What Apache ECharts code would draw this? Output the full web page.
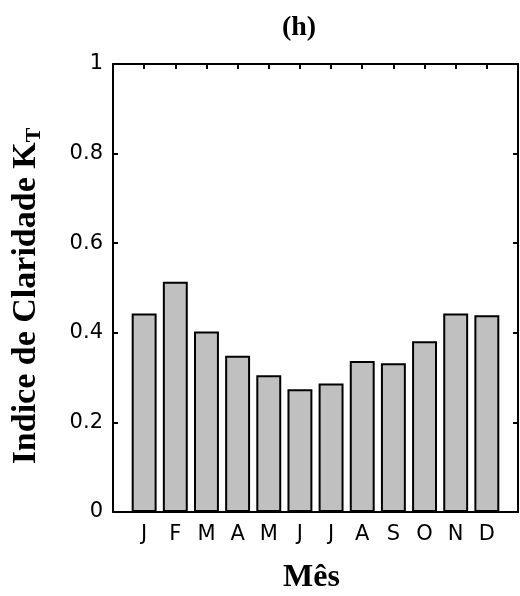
<!DOCTYPE html>
<html>
<head>
<meta charset="utf-8">
<script src="https://cdn.jsdelivr.net/npm/echarts@6/dist/echarts.min.js"></script>
<style>
  html, body { margin: 0; padding: 0; background: #fff; }
  #chart { width: 520px; height: 596px; }
</style>
</head>
<body>
<div id="chart"></div>
<script>
// Monthly clearness index K_T
const months = ['J', 'F', 'M', 'A', 'M', 'J', 'J', 'A', 'S', 'O', 'N', 'D'];
const kt = [0.443, 0.514, 0.403, 0.349, 0.305, 0.274, 0.287, 0.337, 0.332, 0.381, 0.443, 0.439];
const yTicks = [0, 0.2, 0.4, 0.6, 0.8, 1];

const sansFont = '"DejaVu Sans", sans-serif';
const serifFont = '"Liberation Serif", "Times New Roman", serif';

const chart = echarts.init(document.getElementById('chart'), null, { renderer: 'canvas' });

const fmtY = v => {
  const t = yTicks.find(x => Math.abs(x - v) < 1e-9);
  return t === undefined ? '' : String(t);
};

// shared frame styling: black box with inward ticks on all four sides
const lineStyle = { color: '#000', width: 2 };
const frameLine = { show: true, onZero: false, lineStyle };
const frameTick = { show: true, inside: true, length: 5, lineStyle };

chart.setOption({
  animation: false,
  backgroundColor: '#ffffff',
  title: {
    text: '(h)',
    left: 294,
    top: 9,
    textAlign: 'center',
    textStyle: { fontFamily: serifFont, fontWeight: 'bold', fontSize: 28, color: '#000' }
  },
  grid: { left: 113, top: 64, right: 2, bottom: 84, containLabel: false, outerBoundsMode: 'none' },
  xAxis: [
    {
      type: 'value',
      min: 0, max: 13, interval: 1,
      position: 'bottom',
      name: 'Mês',
      nameLocation: 'middle',
      nameGap: 50,
      nameTextStyle: { fontFamily: serifFont, fontWeight: 'bold', fontSize: 32, color: '#000', padding: [0, 8, 0, 0] },
      axisLine: frameLine,
      axisTick: frameTick,
      axisLabel: {
        margin: 12,
        fontFamily: sansFont, fontSize: 21, color: '#000',
        formatter: v => (v >= 1 && v <= 12 ? months[v - 1] : '')
      },
      splitLine: { show: false }
    },
    {
      type: 'value',
      min: 0, max: 13, interval: 1,
      position: 'top',
      axisLine: frameLine,
      axisTick: frameTick,
      axisLabel: { show: false },
      splitLine: { show: false }
    }
  ],
  yAxis: [
    {
      type: 'value',
      min: 0, max: 1, interval: 0.2,
      position: 'left',
      name: '{a|Indice de Claridade K}{s|T}',
      nameLocation: 'middle',
      nameRotate: 90,
      nameGap: 67,
      nameTextStyle: {
        rich: {
          a: { fontFamily: serifFont, fontWeight: 'bold', fontSize: 34, color: '#000', lineHeight: 40 },
          s: { fontFamily: serifFont, fontWeight: 'bold', fontSize: 22, color: '#000', padding: [16, 16, 0, 0], lineHeight: 40 }
        }
      },
      axisLine: frameLine,
      axisTick: frameTick,
      axisLabel: { margin: 10, fontFamily: sansFont, fontSize: 21, color: '#000', formatter: fmtY },
      splitLine: { show: false }
    },
    {
      type: 'value',
      min: 0, max: 1, interval: 0.2,
      position: 'right',
      axisLine: frameLine,
      axisTick: frameTick,
      axisLabel: { show: false },
      splitLine: { show: false }
    }
  ],
  series: [
    {
      type: 'bar',
      xAxisIndex: 0,
      yAxisIndex: 0,
      barWidth: '80%',
      data: kt.map((v, i) => [i + 1, v]),
      itemStyle: { color: '#c0c0c0', borderColor: '#000', borderWidth: 2 },
      emphasis: { disabled: true }
    }
  ]
});
</script>
</body>
</html>
